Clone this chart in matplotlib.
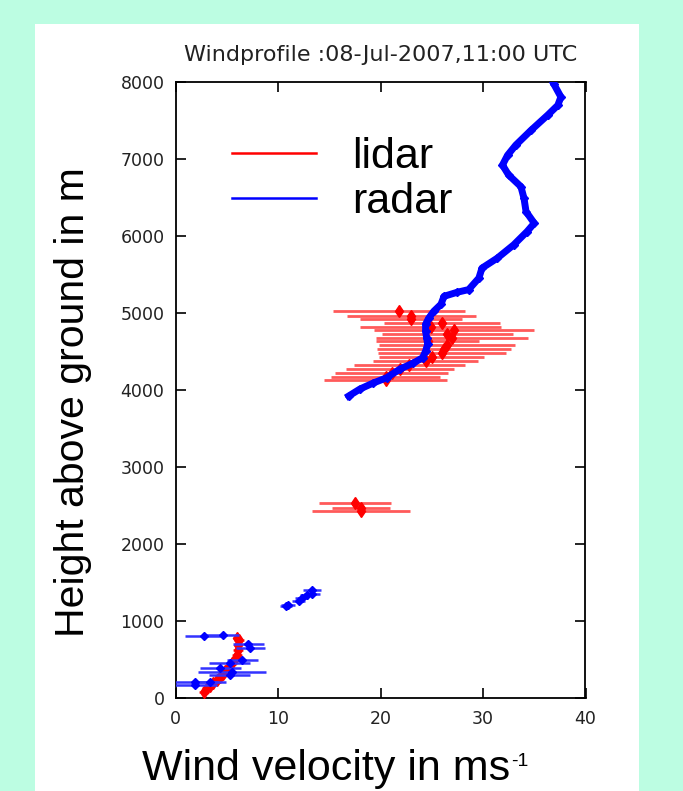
import numpy as np
import matplotlib
matplotlib.use("Agg")
from matplotlib import pyplot as plt
from matplotlib.lines import Line2D
from matplotlib.patches import Rectangle

# radar profile above 4 km (wind speed m/s, height m)
radar_top_v = [16.9, 18.0, 19.3, 20.6, 21.9, 23.2, 24.1, 24.4, 24.6, 24.5, 24.4, 24.4,
               24.7, 25.2, 25.9, 26.2, 27.5, 28.6, 29.6, 29.9, 31.4, 33.0, 34.3, 35.0,
               34.2, 34.0, 33.7, 32.5, 31.9, 32.4, 33.2, 34.7, 36.3, 37.3, 37.6, 36.9]
radar_top_h = [3922, 4013, 4091, 4159, 4272, 4350, 4418, 4505, 4595, 4677, 4764, 4854,
               4932, 5023, 5113, 5217, 5270, 5304, 5454, 5583, 5713, 5886, 6058, 6166,
               6317, 6489, 6641, 6792, 6922, 7050, 7181, 7375, 7569, 7698, 7806, 7976]

# radar points below 1.5 km
radar_low_v = [2.8, 4.6, 7.1, 7.3, 6.5, 5.3, 4.35, 5.5, 5.3, 1.9, 3.4, 1.9,
               10.8, 11.0, 12.0, 12.3, 12.8, 13.3, 13.3]
radar_low_h = [800, 815, 700, 650, 492, 453, 388, 341, 298, 211, 211, 168,
               1190, 1213, 1256, 1298, 1340, 1355, 1398]
radar_low_err = [1.9, 1.6, 1.5, 1.4, 1.5, 2.0, 2.0, 3.3, 2.0, 2.2, 1.5, 2.1,
                 0.6, 0.7, 0.6, 0.6, 0.7, 0.8, 0.9]

# lidar points
lidar_v = [21.8, 23.0, 23.0, 26.0, 24.9, 27.2, 26.5, 27.0, 24.6, 26.5, 26.2, 26.0,
           25.0, 24.4, 22.8, 21.9, 21.1, 20.5, 20.5,
           17.5, 18.1, 18.1,
           2.8, 3.1, 3.4, 3.7, 4.0, 4.35, 4.6, 4.8, 5.2, 5.5, 5.8, 6.0, 6.1, 6.1, 6.2, 6.0]
lidar_h = [5023, 4967, 4923, 4867, 4824, 4773, 4729, 4677, 4634, 4583, 4531, 4479,
           4427, 4375, 4324, 4272, 4224, 4168, 4125,
           2528, 2470, 2434,
           82, 125, 155, 190, 233, 267, 311, 354, 406, 449, 501, 557, 621, 686, 751, 777]
lidar_err = [6.4, 6.3, 5.0, 5.7, 6.9, 7.8, 6.4, 7.4, 5.0, 6.6, 6.5, 6.2,
             5.1, 5.1, 5.4, 5.3, 5.5, 5.3, 6.0,
             3.5, 2.8, 4.8,
             0.5, 0.5, 0.4, 0.5, 0.4, 0.5, 0.5, 0.4, 0.5, 0.5, 0.4, 0.5, 0.5, 0.4, 0.5, 0.4]

x_ticks = [0, 10, 20, 30, 40]
y_ticks = [0, 1000, 2000, 3000, 4000, 5000, 6000, 7000, 8000]

plt.rcParams['font.family'] = ['Liberation Sans', 'DejaVu Sans']

W, H = 683, 791
fig = plt.figure(figsize=(W/100, H/100), dpi=100)
fig.patch.set_facecolor('#bcfde2')
fig.patches.append(Rectangle((35/W, 0), 604/W, 767/H, transform=fig.transFigure,
                             facecolor='white', edgecolor='none', zorder=-5))

ax = fig.add_axes([175.5/W, 1 - 698/H, 410/W, 616/H])

ax.errorbar(lidar_v, lidar_h, xerr=lidar_err, fmt='d', color='red', ecolor='#ff5a5a',
            elinewidth=2, ms=6, capsize=0, zorder=3)
ax.errorbar(radar_low_v, radar_low_h, xerr=radar_low_err, fmt='D', color='blue',
            ecolor='#3333ff', elinewidth=1.8, ms=4.5, capsize=0, zorder=4)
ax.plot(radar_top_v, radar_top_h, '-D', color='blue', lw=5, ms=4.5, zorder=4)

ax.set_xlim(0, 40)
ax.set_ylim(0, 8000)
ax.set_xticks(x_ticks)
ax.set_yticks(y_ticks)
ax.tick_params(direction='in', length=7, width=1.2, top=True, right=True,
               labelcolor='#222222')
ax.tick_params(axis='x', pad=9)
ax.tick_params(axis='y', pad=8)
for lab in ax.get_xticklabels() + ax.get_yticklabels():
    lab.set_fontfamily('DejaVu Sans')
    lab.set_fontsize(12.5)
for s in ax.spines.values():
    s.set_linewidth(1.3)

ax.set_title('Windprofile :08-Jul-2007,11:00 UTC', fontsize=16, pad=15,
             fontfamily='DejaVu Sans', color='#222222')
ax.set_xlabel('Wind velocity in ms', fontsize=31)
ax.xaxis.set_label_coords(0.368, -0.082)
ax.set_ylabel('Height above ground in m', fontsize=29.5)
ax.yaxis.set_label_coords(-0.203, 0.48)

handles = [Line2D([], [], color='red', lw=1.8), Line2D([], [], color='blue', lw=1.8)]
ax.legend(handles, ['lidar', 'radar'], loc='upper left', frameon=False,
          bbox_to_anchor=(232/W, 1 - 137/H), bbox_transform=fig.transFigure,
          fontsize=31, handlelength=1.95, handletextpad=0.85, labelspacing=0.12,
          borderpad=0, borderaxespad=0)

# superscript after the x label
fig.canvas.draw()
bb = ax.xaxis.label.get_window_extent()
fig.text(bb.x1/W + 0.001, bb.y1/H - 0.006, '-1', fontsize=14, va='top', ha='left')

fig.savefig('out.png', dpi=100, facecolor=fig.get_facecolor())
